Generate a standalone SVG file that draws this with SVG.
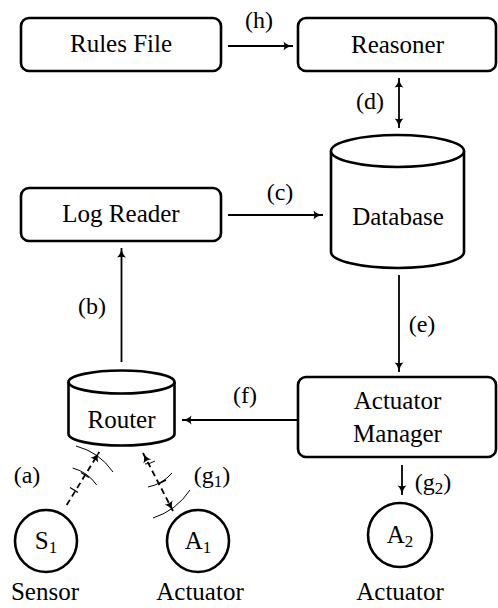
<svg xmlns="http://www.w3.org/2000/svg" width="498" height="608" viewBox="0 0 498 608">
<style>
.box{fill:#fff;stroke:#000;stroke-width:2.6}
.cyl{fill:#fff;stroke:#000;stroke-width:2.6}
text{font-family:Liberation Serif, DejaVu Serif, serif}
.t{font-size:25px;fill:#000;text-anchor:middle}
.lbl{font-size:24px;fill:#000;text-anchor:middle}
.sub{font-size:17px}
.conn{fill:none;stroke:#000;stroke-width:1.8}
.dash{fill:none;stroke:#000;stroke-width:1.8;stroke-dasharray:6 4}
.arc{fill:none;stroke:#000;stroke-width:1}
.tick{fill:none;stroke:#000;stroke-width:1.4}
</style>
<defs>
<marker id="ah" markerUnits="userSpaceOnUse" markerWidth="12" markerHeight="12" viewBox="-1 -6 11 12" refX="9" refY="0" orient="auto-start-reverse">
<path d="M-0.5,-4.5 C2,-1.8 5,-0.6 9,0 C5,0.6 2,1.8 -0.5,4.5 C0.6,1.5 0.6,-1.5 -0.5,-4.5 Z" fill="#000"/>
</marker>
</defs>

<g id="rules-file">
<rect class="box" x="21" y="18" width="200" height="53" rx="8"/>
<text class="t" x="121" y="52" font-family="Liberation Serif">Rules File</text>
</g>
<g id="reasoner">
<rect class="box" x="298" y="18" width="198" height="53" rx="8"/>
<text class="t" x="397.5" y="53" font-family="Liberation Serif">Reasoner</text>
</g>
<g id="log-reader">
<rect class="box" x="21" y="188" width="200" height="53" rx="8"/>
<text class="t" x="121" y="222" font-family="Liberation Serif">Log Reader</text>
</g>
<g id="database">
<path class="cyl" d="M331,151 L331,252 A66.5,16 0 0,0 464,252 L464,151"/>
<ellipse class="cyl" cx="397.5" cy="151" rx="66.5" ry="16"/>
<text class="t" x="398" y="225" font-family="Liberation Serif">Database</text>
</g>
<g id="actuator-manager">
<rect class="box" x="298" y="377" width="198" height="80" rx="8"/>
<text class="t" x="397.5" y="409" font-family="Liberation Serif">Actuator</text>
<text class="t" x="397.5" y="442" font-family="Liberation Serif">Manager</text>
</g>
<g id="router">
<path class="cyl" d="M68.5,382 L68.5,434 A53,11.5 0 0,0 174.5,434 L174.5,382"/>
<ellipse class="cyl" cx="121.5" cy="382" rx="53" ry="11.5"/>
<text class="t" x="121.5" y="428" font-family="Liberation Serif">Router</text>
</g>
<g id="s1">
<circle class="box" cx="46" cy="541" r="31"/>
<text class="t" x="46" y="549" font-family="Liberation Serif">S<tspan class="sub" dy="4">1</tspan></text>
<text class="t" x="45" y="600" font-family="Liberation Serif">Sensor</text>
</g>
<g id="a1">
<circle class="box" cx="198" cy="541" r="31"/>
<text class="t" x="198" y="549" font-family="Liberation Serif">A<tspan class="sub" dy="4">1</tspan></text>
<text class="t" x="200" y="600" font-family="Liberation Serif">Actuator</text>
</g>
<g id="a2">
<circle class="box" cx="400" cy="535" r="32"/>
<text class="t" x="400" y="543" font-family="Liberation Serif">A<tspan class="sub" dy="4">2</tspan></text>
<text class="t" x="400" y="600" font-family="Liberation Serif">Actuator</text>
</g>

<g id="connectors">
<line class="conn" x1="228" y1="46" x2="293" y2="46" marker-end="url(#ah)"/>
<text class="lbl" x="259" y="28" font-family="Liberation Serif">(h)</text>
<line class="conn" x1="399" y1="78" x2="399" y2="128" marker-start="url(#ah)" marker-end="url(#ah)"/>
<text class="lbl" x="370" y="109" font-family="Liberation Serif">(d)</text>
<line class="conn" x1="228" y1="215" x2="323" y2="215" marker-end="url(#ah)"/>
<text class="lbl" x="280" y="200" font-family="Liberation Serif">(c)</text>
<line class="conn" x1="399" y1="275" x2="399" y2="372" marker-end="url(#ah)"/>
<text class="lbl" x="422" y="332" font-family="Liberation Serif">(e)</text>
<line class="conn" x1="297" y1="420" x2="182" y2="420" marker-end="url(#ah)"/>
<text class="lbl" x="245" y="403" font-family="Liberation Serif">(f)</text>
<line class="conn" x1="121.5" y1="362" x2="121.5" y2="248" marker-end="url(#ah)"/>
<text class="lbl" x="92" y="314" font-family="Liberation Serif">(b)</text>
<line class="conn" x1="402" y1="465" x2="402" y2="495" marker-end="url(#ah)"/>
<text class="lbl" x="433" y="490" font-family="Liberation Serif">(g<tspan class="sub" dy="4">2</tspan><tspan dy="-4">)</tspan></text>

<line class="dash" x1="66.7" y1="505" x2="99.3" y2="452" marker-end="url(#ah)"/>
<path class="arc" d="M76,446 A65,65 0 0,1 113,472"/>
<path class="arc" d="M72.7,468 A43,43 0 0,1 96.7,485"/>
<line class="tick" x1="81" y1="472.5" x2="89" y2="477.5"/>
<line class="tick" x1="70" y1="487.5" x2="78" y2="492.5"/>
<text class="lbl" x="27" y="483" font-family="Liberation Serif">(a)</text>

<line class="dash" x1="143" y1="453" x2="173" y2="511" marker-start="url(#ah)" marker-end="url(#ah)"/>
<path class="arc" d="M145,464 A20,20 0 0,0 155,461"/>
<path class="arc" d="M148,487 A42,42 0 0,0 172,473"/>
<path class="arc" d="M153,518 A70,70 0 0,0 190,490"/>
<line class="tick" x1="158" y1="484" x2="166" y2="480"/>
<text class="lbl" x="212" y="483" font-family="Liberation Serif">(g<tspan class="sub" dy="4">1</tspan><tspan dy="-4">)</tspan></text>
</g>
</svg>
